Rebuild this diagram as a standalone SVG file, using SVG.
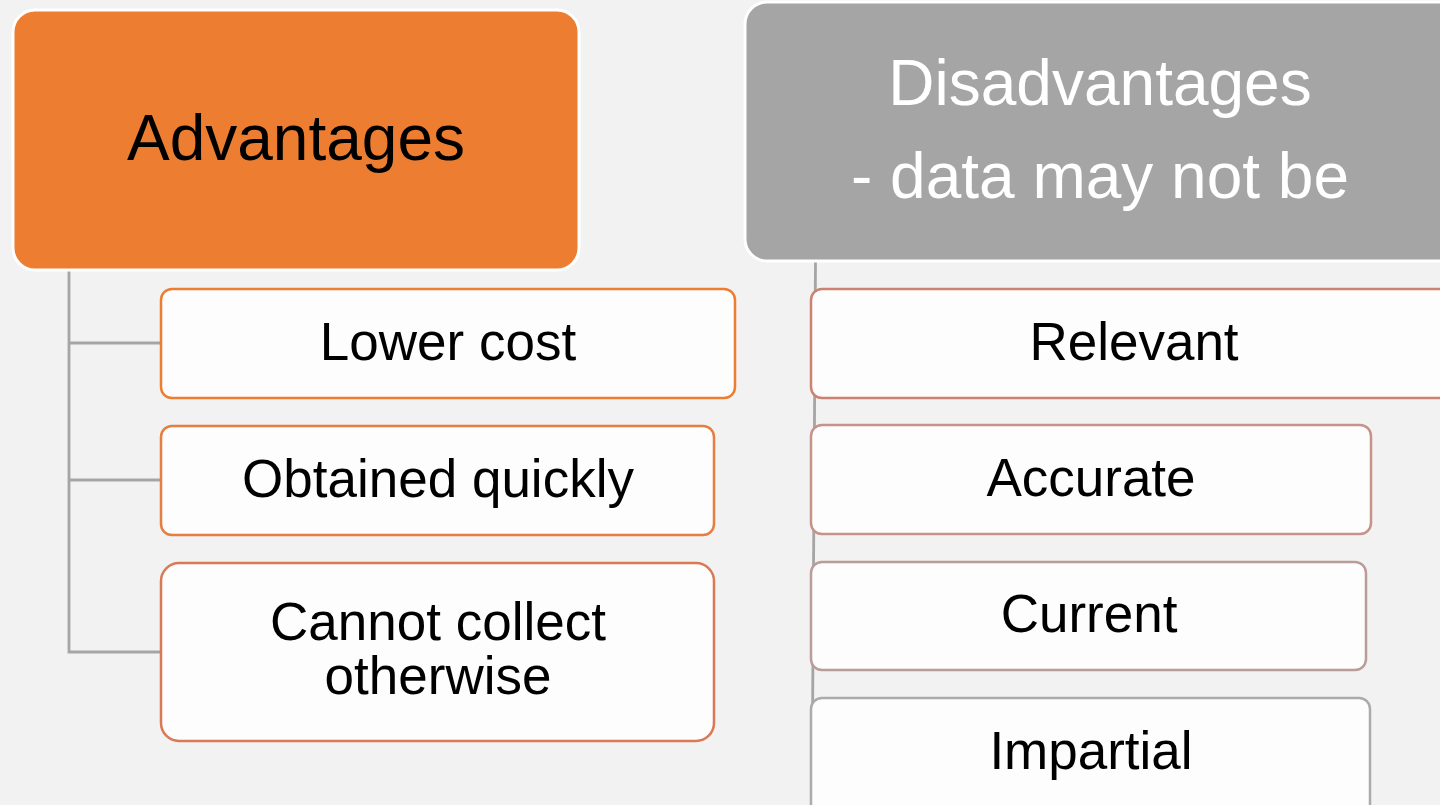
<svg xmlns="http://www.w3.org/2000/svg" width="1440" height="805" viewBox="0 0 1440 805">
  <style>
    .bg { fill: #F2F2F2; }
    .head { stroke: #FFFFFF; stroke-width: 3; }
    .child { fill: #FDFDFD; stroke-width: 2.5; }
    .link { fill: none; stroke: #A5A5A5; stroke-width: 2.8; }
    text { font-family: "Liberation Sans", Arial, sans-serif; text-anchor: middle; }
    .h { font-size: 64px; }
    .c { font-size: 53px; fill: #000000; }
  </style>
  <rect class="bg" x="0" y="0" width="1440" height="805"/>

  <!-- connectors -->
  <g id="connectors">
    <path class="link" d="M69,270 V652 H161 M69,343 H161 M69,480 H161"/>
    <path class="link" d="M815.5,261 L812,805"/>
  </g>

  <!-- left column -->
  <g id="advantages">
    <rect class="head" x="13" y="10" width="566" height="260" rx="22" fill="#ED7D31"/>
    <text class="h" x="296" y="160" fill="#000000">Advantages</text>
  </g>
  <g id="lower-cost">
    <rect class="child" x="161" y="289" width="574" height="109" rx="11" stroke="#ED7D31"/>
    <text class="c" x="448" y="360">Lower cost</text>
  </g>
  <g id="obtained-quickly">
    <rect class="child" x="161" y="426" width="553" height="109" rx="11" stroke="#E57E42"/>
    <text class="c" x="438" y="497">Obtained quickly</text>
  </g>
  <g id="cannot-collect">
    <rect class="child" x="161" y="563" width="553" height="178" rx="18" stroke="#D97A55"/>
    <text class="c" x="438" y="640">Cannot collect</text>
    <text class="c" x="438" y="694">otherwise</text>
  </g>

  <!-- right column -->
  <g id="disadvantages">
    <rect class="head" x="745" y="2" width="715" height="259" rx="22" fill="#A5A5A5"/>
    <text class="h" x="1100" y="105" fill="#FFFFFF">Disadvantages</text>
    <text class="h" x="1100" y="198" fill="#FFFFFF">- data may not be</text>
  </g>
  <g id="relevant">
    <rect class="child" x="811" y="289" width="660" height="109" rx="11" stroke="#CC8270"/>
    <text class="c" x="1134" y="360">Relevant</text>
  </g>
  <g id="accurate">
    <rect class="child" x="811" y="425" width="560" height="109" rx="11" stroke="#C79389"/>
    <text class="c" x="1091" y="496">Accurate</text>
  </g>
  <g id="current">
    <rect class="child" x="811" y="562" width="555" height="108" rx="11" stroke="#BA9D99"/>
    <text class="c" x="1089" y="632">Current</text>
  </g>
  <g id="impartial">
    <rect class="child" x="811" y="698" width="559" height="120" rx="11" stroke="#ABABAB"/>
    <text class="c" x="1091" y="769">Impartial</text>
  </g>
</svg>
